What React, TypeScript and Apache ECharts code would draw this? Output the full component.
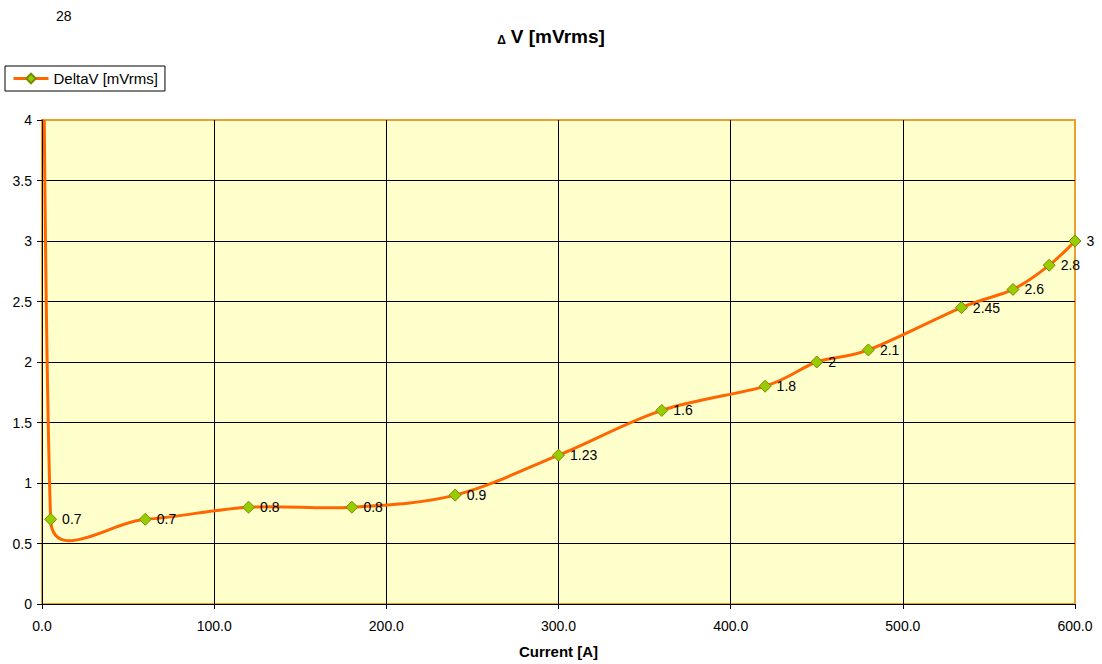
import React, { useEffect, useRef } from "react";
import * as echarts from "echarts";

const currentA = [0, 5, 60, 120, 180, 240, 300, 360, 420, 450, 480, 534, 564, 585, 600];
const deltaV = [28, 0.7, 0.7, 0.8, 0.8, 0.9, 1.23, 1.6, 1.8, 2, 2.1, 2.45, 2.6, 2.8, 3];
const seriesName = "DeltaV [mVrms]";
const titleDelta = "\u0394";
const titleRest = "V [mVrms]";
const xAxisTitle = "Current [A]";

const FONT = "'Liberation Sans', Arial, sans-serif";
const LINE_COLOR = "#FF6600";

export default function App() {
  const ref = useRef<HTMLDivElement>(null);
  useEffect(() => {
    if (!ref.current) return;
    const chart = echarts.init(ref.current, null, { renderer: "svg" });
    const data = currentA.map((x, i) => [x, deltaV[i]]);
    chart.setOption({
      animation: false,
      backgroundColor: "#ffffff",
      textStyle: { fontFamily: FONT },
      title: {
        text: `{d|${titleDelta}} {v|${titleRest}}`,
        left: "center",
        top: 22,
        textStyle: {
          fontFamily: FONT,
          rich: {
            d: { fontFamily: FONT, fontSize: 12, fontWeight: "bold", color: "#000", verticalAlign: "bottom" },
            v: { fontFamily: FONT, fontSize: 19, fontWeight: "bold", color: "#000" },
          },
        },
      },
      legend: {
        left: 5,
        top: 66,
        orient: "horizontal",
        borderColor: "#000",
        borderWidth: 1,
        borderRadius: 0,
        padding: [5, 7],
        itemWidth: 35,
        itemHeight: 12,
        textStyle: { fontFamily: FONT, fontSize: 15, color: "#000" },
        data: [
          {
            name: seriesName,
            lineStyle: { color: LINE_COLOR, width: 3, opacity: 1 },
          },
        ],
      },
      graphic: [
        {
          type: "text",
          left: 56,
          top: 9,
          style: { text: String(deltaV[0]), font: `14px ${FONT}`, fill: "#000" },
        },
      ],
      grid: {
        left: 42,
        right: 27,
        top: 120,
        bottom: 59,
        show: true,
        backgroundColor: "#FFFFCC",
        borderColor: "#E8A030",
        borderWidth: 2,
      },
      xAxis: {
        type: "value",
        min: 0,
        max: 600,
        interval: 100,
        name: xAxisTitle,
        nameLocation: "middle",
        nameGap: 40,
        nameTextStyle: { fontFamily: FONT, fontSize: 15, fontWeight: "bold", color: "#000" },
        axisLine: { show: true, onZero: false, lineStyle: { color: "#000", width: 1 } },
        axisTick: { show: true, length: 5, lineStyle: { color: "#000" } },
        axisLabel: {
          margin: 15,
          fontFamily: FONT,
          fontSize: 14,
          color: "#000",
          formatter: (v: number) => v.toFixed(1),
        },
        splitLine: { show: true, showMinLine: false, showMaxLine: false, lineStyle: { color: "#000", width: 1 } },
      },
      yAxis: {
        type: "value",
        min: 0,
        max: 4,
        interval: 0.5,
        axisLine: { show: true, onZero: false, lineStyle: { color: "#000", width: 1 } },
        axisTick: { show: true, length: 5, lineStyle: { color: "#000" } },
        axisLabel: { margin: 10, fontFamily: FONT, fontSize: 14, color: "#000" },
        splitLine: { show: true, showMinLine: false, showMaxLine: false, lineStyle: { color: "#000", width: 1 } },
      },
      series: [
        {
          name: "curve",
          type: "custom",
          coordinateSystem: "cartesian2d",
          clip: true,
          silent: true,
          z: 2,
          encode: { x: 0, y: 1 },
          data,
          renderItem: (params: any, api: any) => {
            if (params.dataIndex !== 0) return null;
            const pts = currentA.map((x, i) => api.coord([x, deltaV[i]]));
            const n = pts.length;
            const capK = 0.5;
            const cpIn: number[][] = [];
            const cpOut: number[][] = [];
            for (let i = 0; i < n; i++) {
              const p = pts[i];
              if (i === 0 || i === n - 1) {
                cpIn[i] = p;
                cpOut[i] = p;
                continue;
              }
              const pr = pts[i - 1];
              const nx = pts[i + 1];
              const vx = nx[0] - pr[0];
              const vy = nx[1] - pr[1];
              const vl = Math.hypot(vx, vy) || 1;
              const ux = vx / vl;
              const uy = vy / vl;
              const lp = Math.hypot(p[0] - pr[0], p[1] - pr[1]);
              const ln = Math.hypot(nx[0] - p[0], nx[1] - p[1]);
              const base = vl / 6;
              const armIn = Math.min(base, capK * lp);
              const armOut = Math.min(base, capK * ln);
              cpIn[i] = [p[0] - ux * armIn, p[1] - uy * armIn];
              cpOut[i] = [p[0] + ux * armOut, p[1] + uy * armOut];
            }
            const children = [];
            for (let i = 0; i < n - 1; i++) {
              children.push({
                type: "bezierCurve",
                shape: {
                  x1: pts[i][0],
                  y1: pts[i][1],
                  x2: pts[i + 1][0],
                  y2: pts[i + 1][1],
                  cpx1: cpOut[i][0],
                  cpy1: cpOut[i][1],
                  cpx2: cpIn[i + 1][0],
                  cpy2: cpIn[i + 1][1],
                },
                style: { stroke: LINE_COLOR, lineWidth: 3, fill: null, lineCap: "round" },
              });
            }
            return { type: "group", children };
          },
        },
        {
          name: seriesName,
          type: "line",
          data,
          clip: true,
          symbol: "diamond",
          symbolSize: 12,
          showAllSymbol: true,
          lineStyle: { color: LINE_COLOR, width: 3, opacity: 0 },
          itemStyle: { color: "#99CC00", borderColor: "#7A8A00", borderWidth: 1 },
          label: {
            show: true,
            position: "right",
            distance: 5,
            fontFamily: FONT,
            fontSize: 14,
            color: "#000",
          },
          emphasis: { disabled: true },
          z: 3,
        },
      ],
    });
    return () => chart.dispose();
  }, []);
  return (
    <div
      ref={ref}
      style={{ position: "absolute", left: 0, top: 0, width: 1102, height: 664 }}
    />
  );
}
